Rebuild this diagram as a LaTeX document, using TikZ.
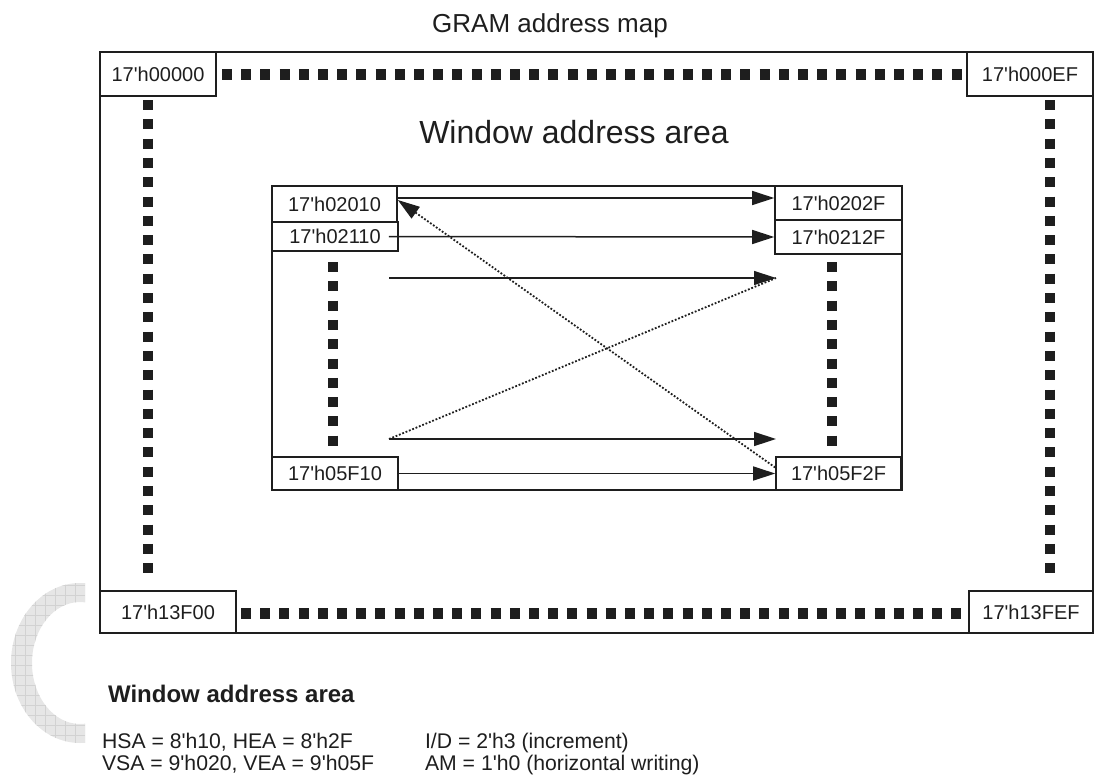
\documentclass[tikz,border=0pt]{standalone}
\usepackage{fontspec}
\setmainfont{Liberation Sans}[Ligatures=TeXOff]
\usetikzlibrary{arrows.meta,positioning,calc}
\definecolor{gmink}{HTML}{1E1E1E}
\definecolor{gmwater}{HTML}{E6E6E6}
\definecolor{gmgrid}{HTML}{D2D2D2}
\tikzset{
  gmframe/.style  ={draw=gmink, line width=0.8pt},
  gmbox/.style    ={rectangle, draw=gmink, fill=white, line width=0.8pt,
                    inner sep=0pt, font=\fontsize{10}{12}\selectfont, text=gmink},
  gmsquares/.style={draw=gmink, line width=5.5pt, dash pattern=on 5pt off 4.6pt},
  gmcolumn/.style ={draw=gmink, line width=5pt, dash pattern=on 5pt off 4.65pt},
  gmarrow/.style  ={-{Triangle[length=11pt,width=7pt]}, line width=0.75pt, draw=gmink},
  gmtrace/.style  ={line width=0.9pt, draw=gmink, dash pattern=on 0.9pt off 0.9pt},
  gmtext/.style   ={anchor=base west, font=\fontsize{10.6}{12}\selectfont, text=gmink},
}
\begin{document}
\begin{tikzpicture}[x=0.5pt, y=-0.5pt]
  \useasboundingbox (0,0) rectangle (1094,783);

  % watermark ring
  \begin{scope}[even odd rule]
    \clip (0,560) rectangle (85,783);
    \clip (80,663) ellipse [x radius=69, y radius=80]
          (80,663) ellipse [x radius=48, y radius=61];
    \fill[gmwater] (0,560) rectangle (85,783);
    \foreach \gx in {5,15,...,85} \draw[gmgrid, line width=0.3pt] (\gx,560) -- (\gx,783);
    \foreach \gy in {565,575,...,775} \draw[gmgrid, line width=0.3pt] (0,\gy) -- (85,\gy);
  \end{scope}

  % titles
  \node[anchor=base, font=\fontsize{13}{15}\selectfont, text=gmink] (gramtitle) at (550,32) {GRAM address map};
  \node[anchor=base, font=\fontsize{16}{19}\selectfont, text=gmink] (wintitle) at (574,143) {Window address area};

  % frames
  \draw[gmframe] (100,52) rectangle (1093,633);
  \draw[gmframe] (272,186) rectangle (902,490);

  % square dotted edges
  \draw[gmsquares] (222,74) -- (962,74);
  \draw[gmsquares] (241,613) -- (962,613);
  \draw[gmcolumn] (148,100) -- (148,578);
  \draw[gmcolumn] (1050,100) -- (1050,578);
  \draw[gmcolumn] (333,262) -- (333,446);
  \draw[gmcolumn] (832,262) -- (832,446);

  % corner addresses
  \node[gmbox, minimum width=58pt, minimum height=22pt] (c00000) at (158,74) {17'h00000};
  \node[gmbox, minimum width=63pt, minimum height=22pt] (c000EF) at (1030,74) {17'h000EF};
  \node[gmbox, minimum width=68pt, minimum height=21pt] (c13F00) at (168,612) {17'h13F00};
  \node[gmbox, minimum width=62pt, minimum height=21pt] (c13FEF) at (1031,612) {17'h13FEF};

  % window addresses
  \node[gmbox, minimum width=62.5pt, minimum height=18pt]   (a02010) at (334.5,204) {17'h02010};
  \node[gmbox, minimum width=63pt,   minimum height=14.5pt] (a02110) at (335,236.5) {17'h02110};
  \node[gmbox, minimum width=63.5pt, minimum height=17pt]   (a0202F) at (838.5,203) {17'h0202F};
  \node[gmbox, minimum width=63.5pt, minimum height=17pt]   (a0212F) at (838.5,237) {17'h0212F};
  \node[gmbox, minimum width=63pt,   minimum height=16.5pt] (a05F10) at (335,473.5) {17'h05F10};
  \node[gmbox, minimum width=62.5pt, minimum height=16.5pt] (a05F2F) at (838.5,473.5) {17'h05F2F};

  \coordinate (row3s) at (389,278);
  \coordinate (row3e) at (776,278);
  \coordinate (row4s) at (389,439);
  \coordinate (row4e) at (776,439);

  % writing order
  \draw[gmarrow] ([yshift=3pt]a02010.east) -- ([yshift=2.5pt]a0202F.west);
  \draw[gmarrow] ([xshift=-5pt]a02110.east) -- (a0212F.west);
  \draw[gmarrow] (row3s) -- (row3e);
  \draw[gmarrow] (row4s) -- (row4e);
  \draw[gmarrow] (a05F10.east) -- (a05F2F.west);
  \draw[gmtrace] (row4s) -- (row3e);
  \draw[gmtrace, -{Triangle[length=11pt,width=7pt]}] ([yshift=3pt]a05F2F.west) -- ([yshift=2pt]a02010.east);

  % register settings
  \node[gmtext, font=\bfseries\fontsize{12}{15}\selectfont] (legend) at (101,702) {Window address area};
  \node[gmtext] (hsaline) at (95,748) {HSA = 8'h10, HEA = 8'h2F};
  \node[gmtext] (vsaline) at (95,770) {VSA = 9'h020, VEA = 9'h05F};
  \node[gmtext] (idline) at (418,748) {I/D = 2'h3 (increment)};
  \node[gmtext] (amline) at (418,770) {AM = 1'h0 (horizontal writing)};
\end{tikzpicture}
\end{document}
